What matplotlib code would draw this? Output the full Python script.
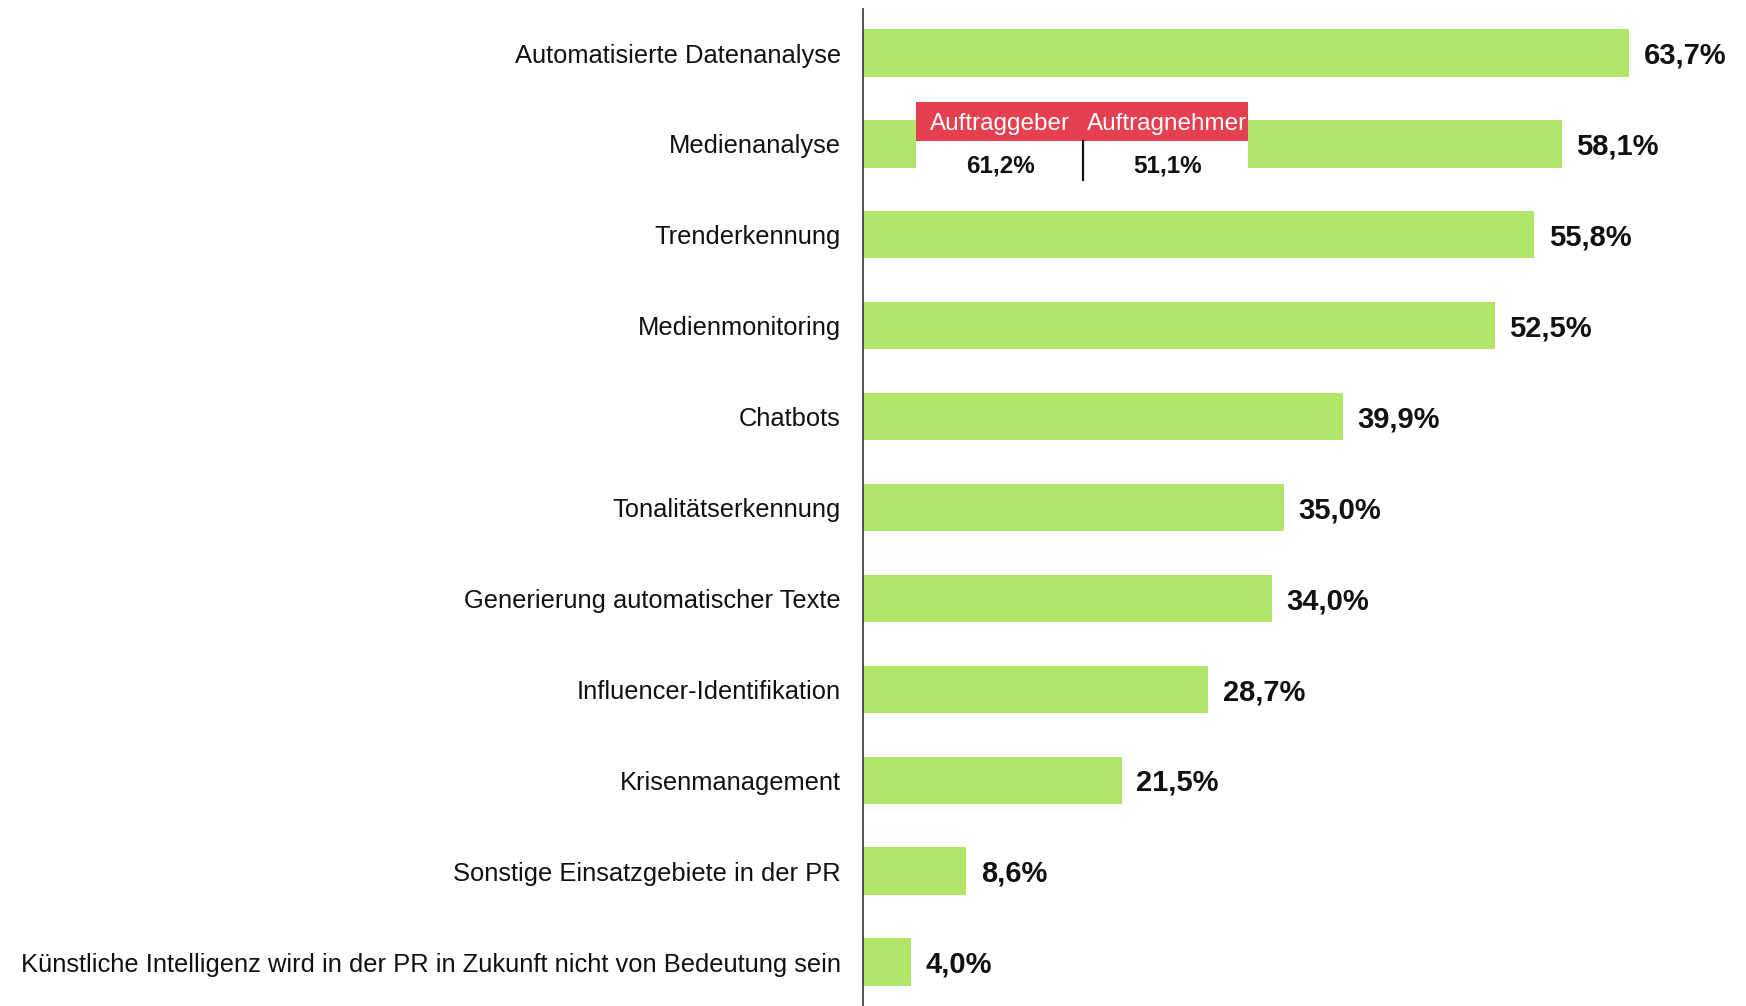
import matplotlib.pyplot as plt
from matplotlib.patches import Rectangle

plt.rcParams['font.family'] = ['Liberation Sans', 'DejaVu Sans']

# Data
categories = [
    'Automatisierte Datenanalyse',
    'Medienanalyse',
    'Trenderkennung',
    'Medienmonitoring',
    'Chatbots',
    'Tonalitätserkennung',
    'Generierung automatischer Texte',
    'Influencer-Identifikation',
    'Krisenmanagement',
    'Sonstige Einsatzgebiete in der PR',
    'Künstliche Intelligenz wird in der PR in Zukunft nicht von Bedeutung sein',
]
values = [63.7, 58.1, 55.8, 52.5, 39.9, 35.0, 34.0, 28.7, 21.5, 8.6, 4.0]

# Breakdown shown for "Medienanalyse"
split_groups = ['Auftraggeber', 'Auftragnehmer']
split_values = [61.2, 51.1]

GREEN = '#b2e66b'
RED = '#e5404f'


def fmt(v):
    return f'{v:.1f}%'.replace('.', ',')


fig = plt.figure(figsize=(17.46, 10.06), dpi=100)
ax = fig.add_axes([0.4943, 0.0, 0.496, 0.991])

y = list(range(len(categories)))
ax.barh(y, values, height=0.52, color=GREEN)
ax.set_xlim(0, 72)
ax.set_ylim(10.484, -0.484)

for i, v in zip(y, values):
    ax.text(v + 1.2, i + 0.03, fmt(v), va='center', ha='left',
            fontsize=21, fontweight='bold', color='#111111')

ax.set_yticks(y)
ax.set_yticklabels(categories, fontsize=18.4, color='#111111')
ax.tick_params(axis='y', length=0, pad=16)
ax.set_xticks([])

for s in ['top', 'right', 'bottom']:
    ax.spines[s].set_visible(False)
ax.spines['left'].set_color('#444444')
ax.spines['left'].set_linewidth(1.3)

# Inset breakdown for Medienanalyse
row = categories.index('Medienanalyse')
x0, x1, xmid = 4.4, 32.0, 18.3
ax.add_patch(Rectangle((x0, row - 0.032), x1 - x0, 0.31, facecolor='white',
                       edgecolor='none', zorder=3))
ax.add_patch(Rectangle((x0, row - 0.461), x1 - x0, 0.429, facecolor=RED,
                       edgecolor='none', zorder=4))
ax.plot([xmid, xmid], [row - 0.032, row + 0.397], color='#111111', lw=1.6, zorder=5)
for cx, name, v in zip([11.4, 25.3], split_groups, split_values):
    ax.text(cx, row - 0.22, name, ha='center', va='center', fontsize=17.5,
            color='white', zorder=6)
    ax.text(cx, row + 0.24, fmt(v), ha='center', va='center', fontsize=17.5,
            fontweight='bold', color='#111111', zorder=6)

fig.savefig('out.png', dpi=100)
